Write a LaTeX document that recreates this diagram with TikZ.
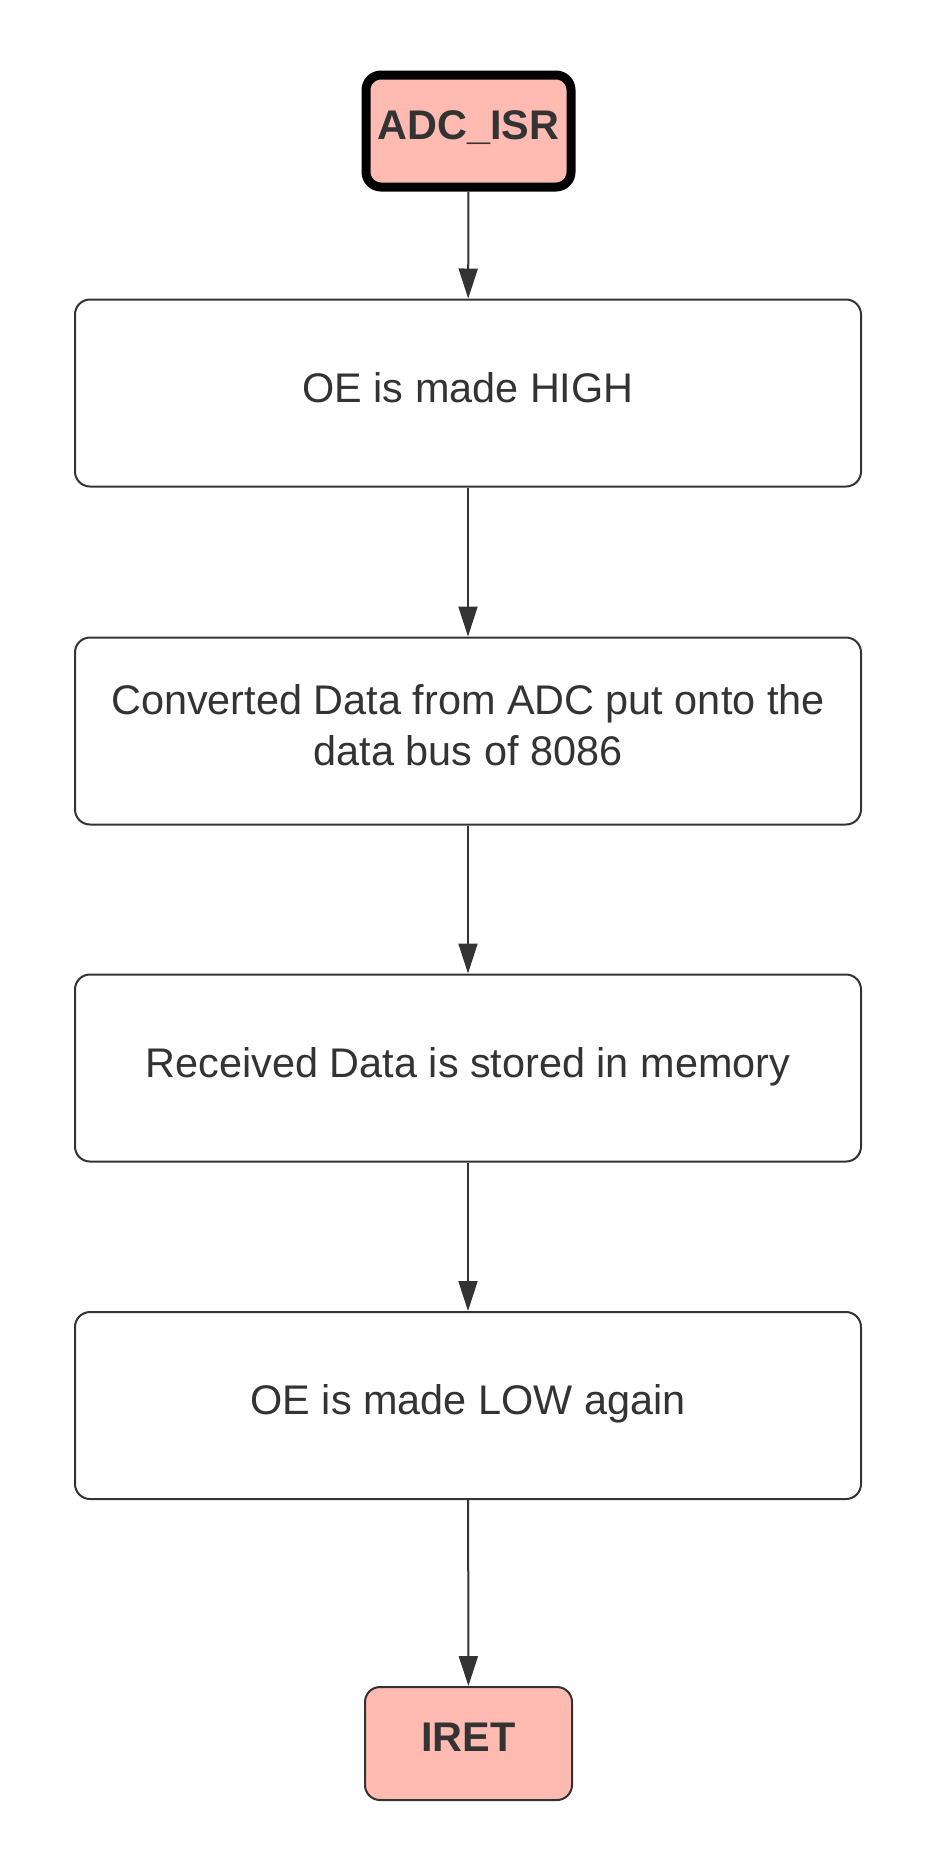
\documentclass[tikz,border=0pt]{standalone}
\usepackage{fontspec}
\setmainfont{Liberation Sans}
\usetikzlibrary{arrows.meta}
\definecolor{ink}{HTML}{333333}
\definecolor{pinkfill}{HTML}{FFBBB1}
\begin{document}
\begin{tikzpicture}[x=0.5pt,y=-0.5pt,
  every node/.style={font=\fontsize{20.7}{25.7}\selectfont, text=ink, align=center},
  stepbox/.style={draw=ink, line width=1pt, rounded corners=7.5pt, fill=white,
    minimum width=393pt, minimum height=93.5pt, inner sep=0pt, text depth=6pt},
  endbox/.style={draw=ink, line width=1pt, rounded corners=7.5pt, fill=pinkfill,
    minimum width=103.5pt, minimum height=56.5pt, inner sep=0pt, text depth=6pt,
    font=\fontsize{20.7}{25.7}\selectfont\bfseries},
  startbox/.style={draw=black, line width=4.5pt, rounded corners=7.5pt, fill=pinkfill,
    minimum width=102.5pt, minimum height=56pt, inner sep=0pt, text depth=6pt,
    font=\fontsize{20.7}{25.7}\selectfont\bfseries},
  flow/.style={draw=ink, line width=1pt, -{Triangle[length=15pt,width=9.5pt]}}]
\useasboundingbox (0,0) rectangle (938,1875);
\node[startbox] (s) at (468.5,131) {ADC\_ISR};
\node[stepbox] (b1) at (468,393) {OE is made HIGH};
\node[stepbox] (b2) at (468,731) {Converted Data from ADC put onto the\\data bus of 8086};
\node[stepbox] (b3) at (468,1068) {Received Data is stored in memory};
\node[stepbox] (b4) at (468,1405.5) {OE is made LOW again};
\node[endbox] (e) at (468.5,1743.5) {IRET};
\draw[flow] (s) -- (b1);
\draw[flow] (b1) -- (b2);
\draw[flow] (b2) -- (b3);
\draw[flow] (b3) -- (b4);
\draw[flow] (b4) -- (e);
\end{tikzpicture}
\end{document}
